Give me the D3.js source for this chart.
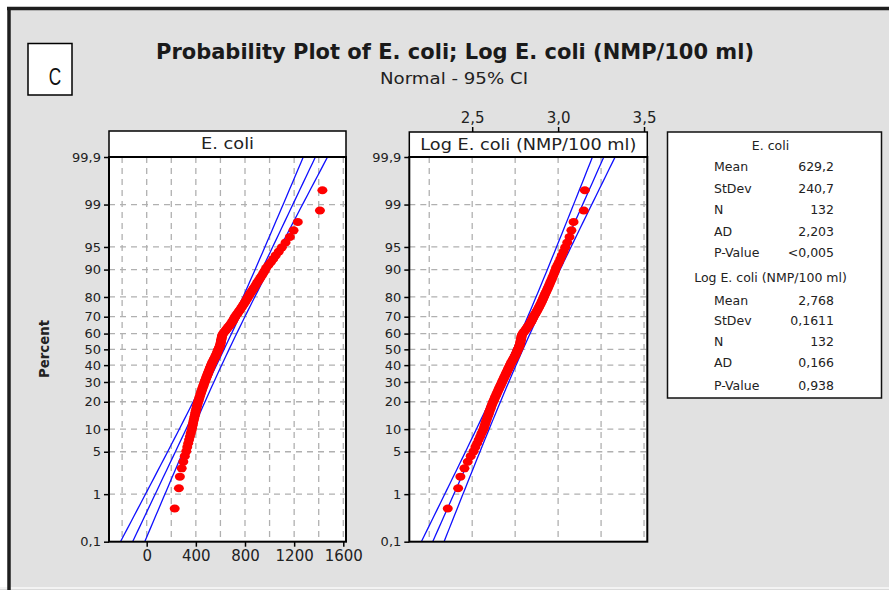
<!DOCTYPE html>
<html><head><meta charset="utf-8">
<script src="https://cdn.jsdelivr.net/npm/d3@7"></script>
<style>
html,body{margin:0;padding:0;background:#fff;}
svg{display:block;font-family:"DejaVu Sans",sans-serif;}
</style></head>
<body>
<svg id="chart" width="889" height="590"></svg>
<script>
// ---------------- DATA ----------------
const ecoli = [
 228,262,270,285,298,310,322,330,338,345,
 352,358,365,370,374,378,382,386,390,394,
 397,401,405,408,412,416,420,424,428,432,
 436,440,444,448,452,456,460,464,468,472,
 476,480,484,488,492,496,500,504,508,512,
 516,520,524,528,532,537,542,547,552,557,
 562,566,570,574,578,582,586,590,594,597,
 600,602,604,606,608,610,612,614,618,624,
 632,640,648,656,664,672,680,688,695,702,
 708,714,720,728,736,744,752,760,768,776,
 784,792,800,808,816,824,832,840,850,860,
 870,880,890,900,912,924,936,948,960,972,
 990,1010,1030,1050,1075,1100,1130,1165,1195,1230,
 1410,1430
];
const statLabels = ["Mean","StDev","N","AD","P-Value"];
const statsEcoli = ["629,2","240,7","132","2,203","<0,005"];
const statsLog   = ["2,768","0,1611","132","0,166","0,938"];
const fitEcoli = {mean:629.2, sd:240.7, n:132};
const fitLog   = {mean:2.768, sd:0.1611, n:132};
const pctTicks  = [0.1,1,5,10,20,30,40,50,60,70,80,90,95,99,99.9];
const pctLabels = ["0,1","1","5","10","20","30","40","50","60","70","80","90","95","99","99,9"];
const xTicksLeft  = [0,400,800,1200,1600];
const xGridLeft   = [-200,0,200,400,600,800,1000,1200,1400,1600];
const xTicksRight = [2.5,3.0,3.5];
const xGridRight  = [2.25,2.5,2.75,3.0,3.25,3.5];
const title = "Probability Plot of E. coli; Log E. coli (NMP/100 ml)";
const subtitle = "Normal - 95% CI";

// ---------------- helpers ----------------
function probit(p){ // Acklam inverse normal
  const a=[-3.969683028665376e+01,2.209460984245205e+02,-2.759285104469687e+02,1.383577518672690e+02,-3.066479806614716e+01,2.506628277459239e+00];
  const b=[-5.447609879822406e+01,1.615858368580409e+02,-1.556989798598866e+02,6.680131188771972e+01,-1.328068155288572e+01];
  const c=[-7.784894002430293e-03,-3.223964580411365e-01,-2.400758277161838e+00,-2.549671750376382e+00,4.374664141464968e+00,2.938163982698783e+00];
  const d=[7.784695709041462e-03,3.224671290700398e-01,2.445134137142996e+00,3.754408661907416e+00];
  const pl=0.02425;
  let q,r;
  if(p<pl){q=Math.sqrt(-2*Math.log(p));return (((((c[0]*q+c[1])*q+c[2])*q+c[3])*q+c[4])*q+c[5])/((((d[0]*q+d[1])*q+d[2])*q+d[3])*q+1);}
  if(p<=1-pl){q=p-0.5;r=q*q;return (((((a[0]*r+a[1])*r+a[2])*r+a[3])*r+a[4])*r+a[5])*q/(((((b[0]*r+b[1])*r+b[2])*r+b[3])*r+b[4])*r+1);}
  q=Math.sqrt(-2*Math.log(1-p));return -(((((c[0]*q+c[1])*q+c[2])*q+c[3])*q+c[4])*q+c[5])/((((d[0]*q+d[1])*q+d[2])*q+d[3])*q+1);
}
const comma = s => String(s).replace('.',',');

const svg = d3.select("#chart");
const TXT = "#222";

// background and frame
svg.append("rect").attr("x",9).attr("y",8).attr("width",880).attr("height",579).attr("fill","#e1e1e1");
svg.append("rect").attr("x",0).attr("y",587).attr("width",889).attr("height",2).attr("fill","#f3f3f3");
svg.append("rect").attr("x",0).attr("y",589).attr("width",889).attr("height",1).attr("fill","#dadada");
svg.append("line").attr("x1",7).attr("x2",889).attr("y1",8.5).attr("y2",8.5).attr("stroke","#1e1e1e").attr("stroke-width",3.5);
svg.append("line").attr("x1",9).attr("x2",9).attr("y1",7).attr("y2",590).attr("stroke","#1e1e1e").attr("stroke-width",3.5);

// "C" box
svg.append("rect").attr("x",28).attr("y",43.5).attr("width",44).attr("height",51.5).attr("fill","#fff").attr("stroke","#000").attr("stroke-width",1.5);
svg.append("text").attr("x",55).attr("y",85).attr("text-anchor","middle")
  .attr("font-family","Liberation Sans, Arial, sans-serif").attr("font-size",23)
  .attr("transform","translate(55,0) scale(0.75,1) translate(-55,0)")
  .attr("fill","#111").text("C");

// titles
svg.append("text").attr("x",156).attr("y",59).attr("font-size",22).attr("font-weight","bold")
  .attr("textLength",598).attr("lengthAdjust","spacingAndGlyphs").attr("fill","#1a1a1a").text(title);
svg.append("text").attr("x",380).attr("y",84).attr("font-size",15)
  .attr("textLength",148).attr("lengthAdjust","spacingAndGlyphs").attr("fill",TXT).text(subtitle);

// Percent label
svg.append("text").attr("transform","translate(49,349) rotate(-90)").attr("text-anchor","middle")
  .attr("font-size",14).attr("font-weight","bold").attr("textLength",58).attr("lengthAdjust","spacingAndGlyphs")
  .attr("fill",TXT).text("Percent");

// shared y scale (on normal quantiles)
const zMin = probit(0.001), zMax = probit(0.999);
const y = d3.scaleLinear().domain([zMin, zMax]).range([541.7, 157]);
const zTicks = pctTicks.map(p=>probit(p/100));

function panel(opts){
  const {x, x0, x1, top, headTop, header, headerLen, grid, data, fit, id} = opts;
  const g = svg.append("g");
  g.append("rect").attr("x",x0).attr("y",top).attr("width",x1-x0).attr("height",541.7-top).attr("fill","#fff");
  g.append("rect").attr("x",x0).attr("y",headTop).attr("width",x1-x0).attr("height",top-headTop)
    .attr("fill","#fff").attr("stroke","#000").attr("stroke-width",1.5);
  g.append("text").attr("x",(x0+x1)/2).attr("y",headTop+(top-headTop)/2+5).attr("text-anchor","middle")
    .attr("font-size",15).attr("textLength",headerLen).attr("lengthAdjust","spacingAndGlyphs")
    .attr("fill",TXT).text(header);
  const gridG = g.append("g").attr("stroke","#b0b0b0").attr("stroke-width",1.3).attr("stroke-dasharray","6,5");
  gridG.selectAll(".h").data(zTicks.filter(z=>z>zMin+1e-6 && z<zMax-1e-6)).join("line")
    .attr("x1",x0).attr("x2",x1).attr("y1",d=>y(d)).attr("y2",d=>y(d));
  gridG.selectAll(".v").data(grid).join("line")
    .attr("x1",d=>x(d)).attr("x2",d=>x(d)).attr("y1",top).attr("y2",541.7);
  svg.append("clipPath").attr("id",id).append("rect").attr("x",x0).attr("y",top).attr("width",x1-x0).attr("height",541.7-top);
  const pg = g.append("g").attr("clip-path",`url(#${id})`);
  const zs = d3.range(zMin, zMax+0.0001, (zMax-zMin)/60);
  const se = z => fit.sd*Math.sqrt(1/fit.n + z*z/(2*fit.n));
  const mk = k => d3.line().x(z=>x(fit.mean + z*fit.sd + k*1.96*se(z))).y(z=>y(z));
  [-1,0,1].forEach(k=>{
    pg.append("path").attr("d",mk(k)(zs)).attr("fill","none").attr("stroke","#1010ff").attr("stroke-width",1.3);
  });
  const sorted = data.slice().sort(d3.ascending);
  const n = sorted.length;
  pg.selectAll("ellipse").data(sorted).join("ellipse")
    .attr("cx",d=>x(d)).attr("cy",(d,i)=>y(probit((i+1-0.3)/(n+0.4))))
    .attr("rx",5).attr("ry",4).attr("fill","#ff0000");
  g.append("rect").attr("x",x0).attr("y",top).attr("width",x1-x0).attr("height",541.7-top)
    .attr("fill","none").attr("stroke","#000").attr("stroke-width",2);
  const ya = g.append("g").attr("transform",`translate(${x0},0)`)
    .call(d3.axisLeft(y).tickValues(zTicks).tickFormat((d,i)=>pctLabels[i]).tickSize(5).tickPadding(3));
  ya.select(".domain").remove();
  ya.selectAll("line").attr("stroke","#000").attr("stroke-width",1.5);
  ya.selectAll("text").attr("font-size",13).attr("fill",TXT).attr("font-family","DejaVu Sans, sans-serif");
  return g;
}

// left panel
const xL = d3.scaleLinear().domain([-306.8, 1622]).range([109, 346]);
const gL = panel({x:xL, x0:109, x1:346, top:157, headTop:131, header:"E. coli", headerLen:53,
  grid:xGridLeft, data:ecoli, fit:fitEcoli, id:"clipL"});
const xa = gL.append("g").attr("transform","translate(0,541.7)")
  .call(d3.axisBottom(xL).tickValues(xTicksLeft).tickFormat(d3.format("d")).tickSize(5).tickPadding(4));
xa.select(".domain").remove();
xa.selectAll("line").attr("stroke","#000").attr("stroke-width",1.5);
xa.selectAll("text").attr("font-size",15).attr("fill",TXT).attr("font-family","DejaVu Sans, sans-serif");

// right panel
const logData = ecoli.map(v=>Math.log10(v));
const xR = d3.scaleLinear().domain([2.134, 3.519]).range([409.3, 647.3]);
const gR = panel({x:xR, x0:409.3, x1:647.3, top:157, headTop:132, header:"Log  E. coli (NMP/100 ml)", headerLen:216,
  grid:xGridRight, data:logData, fit:fitLog, id:"clipR"});
const xt = gR.append("g").attr("transform","translate(0,132)")
  .call(d3.axisTop(xR).tickValues(xTicksRight).tickFormat(d=>comma(d.toFixed(1))).tickSize(5).tickPadding(4));
xt.select(".domain").remove();
xt.selectAll("line").attr("stroke","#000").attr("stroke-width",1.5);
xt.selectAll("text").attr("font-size",15).attr("fill",TXT).attr("font-family","DejaVu Sans, sans-serif");

// legend box
const lg = svg.append("g");
lg.append("rect").attr("x",667.5).attr("y",132).attr("width",214).attr("height",266)
  .attr("fill","#fff").attr("stroke","#111").attr("stroke-width",1.5);
const rowsY1 = [166.7,188.3,209,231,252.3];
const rowsY2 = [300,320.7,341,362,385];
function block(head, hy, vals, ys){
  lg.append("text").attr("x",770.5).attr("y",hy+4.5).attr("text-anchor","middle").attr("font-size",12.5).attr("fill",TXT).text(head);
  statLabels.forEach((l,i)=>{
    lg.append("text").attr("x",714).attr("y",ys[i]+4.5).attr("font-size",12.5).attr("fill",TXT).text(l);
    lg.append("text").attr("x",834).attr("y",ys[i]+4.5).attr("text-anchor","end").attr("font-size",12.5).attr("fill",TXT).text(vals[i]);
  });
}
block("E. coli",145,statsEcoli,rowsY1);
block("Log  E. coli (NMP/100 ml)",277,statsLog,rowsY2);
</script>
</body></html>
